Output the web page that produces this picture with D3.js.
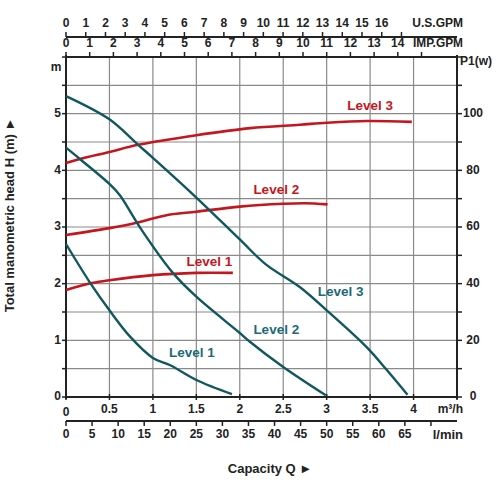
<!DOCTYPE html>
<html><head><meta charset="utf-8">
<script src="https://cdn.jsdelivr.net/npm/d3@7"></script>
<style>
body{margin:0;background:#fff;}
svg text{font-family:"Liberation Sans",Arial,sans-serif;font-weight:bold;}
</style></head>
<body><svg id="c" width="500" height="500"></svg>
<script>
// ---- data ----
const flowM3h = [0,0.5,1,1.5,2,2.5,3,3.5,4];           // m³/h tick labels
const flowLmin = d3.range(0,70,5);                     // l/min tick labels
const usGpmTicks = d3.range(0,18);                     // U.S.GPM ticks
const usGpmLabels = d3.range(0,17);
const impGpmTicks = d3.range(0,16);
const impGpmLabels = d3.range(0,15);
const headTicks = [0,1,2,3,4,5];
const powerTicks = [0,20,40,60,80,100];

// Head curves [Q m³/h, H m]
const head3 = [[0,5.31],[0.5,4.9],[0.83,4.45],[1.0,4.22],[1.5,3.52],[2.0,2.78],[2.3,2.34],[2.69,1.94],[3.0,1.53],[3.46,0.88],[3.69,0.48],[3.93,0.04]];
const head2 = [[0,4.4],[0.16,4.2],[0.5,3.76],[0.62,3.56],[0.76,3.22],[0.87,2.95],[1.23,2.19],[1.5,1.77],[2.0,1.13],[2.12,0.97],[2.5,0.53],[2.99,0.03]];
const head1 = [[0,2.7],[0.28,2.01],[0.5,1.53],[0.74,1.06],[1.0,0.69],[1.2,0.56],[1.5,0.3],[1.91,0.05]];
// Power curves [Q m³/h, P1 W]
const power3 = [[0,82.6],[0.16,84],[0.5,86.5],[0.83,89],[1.5,92.4],[2.12,94.9],[2.69,96.1],[3.0,96.8],[3.46,97.4],[3.98,97.1]];
const power2 = [[0,57.2],[0.5,59.6],[0.8,61.4],[1.0,63],[1.2,64.4],[1.5,65.4],[2.0,67.2],[2.5,68.2],[2.75,68.4],[3.01,68]];
const power1 = [[0,37.8],[0.3,40.2],[0.5,41.2],[1.0,43],[1.5,43.8],[1.92,43.8]];
const levelNames = ["Level 1","Level 2","Level 3"];

// ---- layout ----
const svg = d3.select("#c");
const L=66,R=457,T=57,B=397;
const x = d3.scaleLinear().domain([0,4.5]).range([L,R]);
const y = d3.scaleLinear().domain([0,6]).range([B,T]);
const yP = d3.scaleLinear().domain([0,120]).range([B,T]);
const xL = d3.scaleLinear().domain([0,4500/60]).range([L,R]);
const xUS = d3.scaleLinear().domain([0,4500/60/3.78541]).range([L,R]);
const xIMP = d3.scaleLinear().domain([0,4500/60/4.54609]).range([L,R]);
const red="#c4161c", teal="#10585e", tealText="#1b6a78";

// grid
const g = svg.append("g").attr("stroke","#8a8a8a").attr("stroke-width",1.2);
d3.range(0.5,4.5,0.5).forEach(v=>g.append("line").attr("x1",x(v)).attr("x2",x(v)).attr("y1",T).attr("y2",B));
d3.range(0.5,6,0.5).forEach(v=>g.append("line").attr("x1",L).attr("x2",R).attr("y1",y(v)).attr("y2",y(v)));

// axes lines
const ax = svg.append("g").attr("stroke","#222").attr("stroke-width",2);
ax.append("line").attr("x1",L).attr("x2",L).attr("y1",T-2).attr("y2",B+2);
ax.append("line").attr("x1",R).attr("x2",R).attr("y1",T-2).attr("y2",B+2);
ax.append("line").attr("x1",L).attr("x2",R).attr("y1",B).attr("y2",B);
ax.append("line").attr("x1",L).attr("x2",R).attr("y1",T).attr("y2",T);
ax.append("line").attr("x1",L).attr("x2",R).attr("y1",37).attr("y2",37);
ax.append("line").attr("x1",L).attr("x2",R).attr("y1",421).attr("y2",421);

const tk = svg.append("g").attr("stroke","#222").attr("stroke-width",1.5);
d3.range(0,6.5,0.5).forEach(v=>tk.append("line").attr("x1",L-4).attr("x2",L).attr("y1",y(v)).attr("y2",y(v)));
d3.range(0,130,10).forEach(v=>tk.append("line").attr("x1",R).attr("x2",R+5).attr("y1",yP(v)).attr("y2",yP(v)));
flowM3h.concat([4.5]).forEach(v=>tk.append("line").attr("x1",x(v)).attr("x2",x(v)).attr("y1",B-3).attr("y2",B+3));
flowLmin.concat([70]).forEach(v=>tk.append("line").attr("x1",xL(v)).attr("x2",xL(v)).attr("y1",421).attr("y2",426));
usGpmTicks.forEach(v=>tk.append("line").attr("x1",xUS(v)).attr("x2",xUS(v)).attr("y1",32).attr("y2",37));
impGpmTicks.forEach(v=>tk.append("line").attr("x1",xIMP(v)).attr("x2",xIMP(v)).attr("y1",52).attr("y2",57));

function txt(t,xx,yy,anchor,size,color){
  return svg.append("text").attr("x",xx).attr("y",yy).attr("text-anchor",anchor||"middle")
    .attr("dominant-baseline","middle").attr("font-size",size||12).attr("fill",color||"#222").text(t);
}
headTicks.forEach(v=>txt(v,61,y(v),"end",12));
powerTicks.forEach(v=>txt(v,473,yP(v),"middle",12));
flowM3h.forEach(v=>txt(v,x(v),v===0?413:410,"middle",12));
flowLmin.forEach(v=>txt(v,xL(v),435,"middle",12));
usGpmLabels.forEach(v=>txt(v,xUS(v),24,"middle",12));
impGpmLabels.forEach(v=>txt(v,xIMP(v),44,"middle",12));
txt("U.S.GPM",463,24,"end",12);
txt("IMP.GPM",463,44,"end",12).attr("textLength",50).attr("lengthAdjust","spacingAndGlyphs");
txt("P1(w)",460,62,"start",12);
txt("m",56,68,"middle",12);
txt("m³/h",463,410,"end",12);
txt("l/min",463,436,"end",13);
txt("Capacity Q ►",270,470,"middle",13);
svg.append("text").attr("transform","translate(11,215) rotate(-90)").attr("text-anchor","middle")
  .attr("dominant-baseline","middle").attr("font-size",13).attr("fill","#222").text("Total manometric head H (m) ►");

// curves
const lineH = d3.line().x(d=>x(d[0])).y(d=>y(d[1])).curve(d3.curveCatmullRom.alpha(0.5));
const lineP = d3.line().x(d=>x(d[0])).y(d=>yP(d[1])).curve(d3.curveCatmullRom.alpha(0.5));
[power1,power2,power3].forEach(p=>svg.append("path").attr("d",lineP(p)).attr("fill","none").attr("stroke",red).attr("stroke-width",2.6));
[head1,head2,head3].forEach(p=>svg.append("path").attr("d",lineH(p)).attr("fill","none").attr("stroke",teal).attr("stroke-width",2.4));

// labels
const redPos=[[1.65,2.38],[2.42,3.65],[3.5,5.13]];
const tealPos=[[1.45,0.77],[2.42,1.18],[3.16,1.85]];
levelNames.forEach((n,i)=>{
  txt(n,x(redPos[i][0]),y(redPos[i][1]),"middle",13.5,red);
  txt(n,x(tealPos[i][0]),y(tealPos[i][1]),"middle",13.5,tealText);
});
</script></body></html>
